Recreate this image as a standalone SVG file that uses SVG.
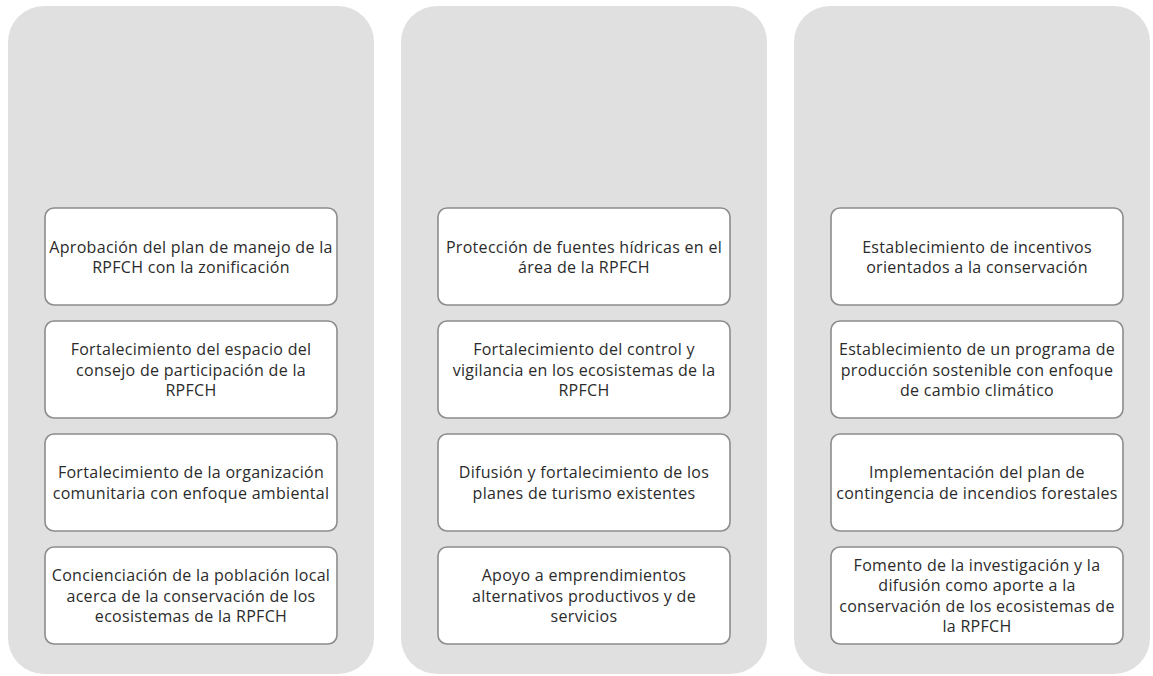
<svg xmlns="http://www.w3.org/2000/svg" width="1153" height="676" viewBox="0 0 1153 676">
<style>
.panel{fill:#e0e0e0}
.box{fill:#ffffff;stroke:#8c8c8c;stroke-width:1.6}
.t{font-family:"Open Sans","Liberation Sans",sans-serif;font-size:16px;letter-spacing:0.3px;fill:#2b2b2b;text-anchor:middle}
</style>
<rect width="1153" height="676" fill="#ffffff"/>
<g id="panels">
<rect class="panel" x="8" y="6" width="366" height="668" rx="36"/>
<rect class="panel" x="401" y="6" width="366" height="668" rx="36"/>
<rect class="panel" x="794" y="6" width="356" height="668" rx="36"/>
</g>
<g id="connectors"/>
<g id="c1n1"><rect class="box" x="45" y="208" width="292" height="97" rx="9"/><text class="t"><tspan x="191" y="252.5">Aprobación del plan de manejo de la</tspan><tspan x="191" y="272.8">RPFCH con la zonificación</tspan></text></g>
<g id="c1n2"><rect class="box" x="45" y="321" width="292" height="97" rx="9"/><text class="t"><tspan x="191" y="355.2">Fortalecimiento del espacio del</tspan><tspan x="191" y="375.5">consejo de participación de la</tspan><tspan x="191" y="395.8">RPFCH</tspan></text></g>
<g id="c1n3"><rect class="box" x="45" y="434" width="292" height="97" rx="9"/><text class="t"><tspan x="191" y="478.4">Fortalecimiento de la organización</tspan><tspan x="191" y="498.7">comunitaria con enfoque ambiental</tspan></text></g>
<g id="c1n4"><rect class="box" x="45" y="547" width="292" height="97" rx="9"/><text class="t"><tspan x="191" y="581.2">Concienciación de la población local</tspan><tspan x="191" y="601.5">acerca de la conservación de los</tspan><tspan x="191" y="621.8">ecosistemas de la RPFCH</tspan></text></g>

<g id="c2n1"><rect class="box" x="438" y="208" width="292" height="97" rx="9"/><text class="t"><tspan x="584" y="252.5">Protección de fuentes hídricas en el</tspan><tspan x="584" y="272.8">área de la RPFCH</tspan></text></g>
<g id="c2n2"><rect class="box" x="438" y="321" width="292" height="97" rx="9"/><text class="t"><tspan x="584" y="355.2">Fortalecimiento del control y</tspan><tspan x="584" y="375.5">vigilancia en los ecosistemas de la</tspan><tspan x="584" y="395.8">RPFCH</tspan></text></g>
<g id="c2n3"><rect class="box" x="438" y="434" width="292" height="97" rx="9"/><text class="t"><tspan x="584" y="478.4">Difusión y fortalecimiento de los</tspan><tspan x="584" y="498.7">planes de turismo existentes</tspan></text></g>
<g id="c2n4"><rect class="box" x="438" y="547" width="292" height="97" rx="9"/><text class="t"><tspan x="584" y="581.2">Apoyo a emprendimientos</tspan><tspan x="584" y="601.5">alternativos productivos y de</tspan><tspan x="584" y="621.8">servicios</tspan></text></g>

<g id="c3n1"><rect class="box" x="831" y="208" width="292" height="97" rx="9"/><text class="t"><tspan x="977" y="252.5">Establecimiento de incentivos</tspan><tspan x="977" y="272.8">orientados a la conservación</tspan></text></g>
<g id="c3n2"><rect class="box" x="831" y="321" width="292" height="97" rx="9"/><text class="t"><tspan x="977" y="355.2">Establecimiento de un programa de</tspan><tspan x="977" y="375.5">producción sostenible con enfoque</tspan><tspan x="977" y="395.8">de cambio climático</tspan></text></g>
<g id="c3n3"><rect class="box" x="831" y="434" width="292" height="97" rx="9"/><text class="t"><tspan x="977" y="478.4">Implementación del plan de</tspan><tspan x="977" y="498.7">contingencia de incendios forestales</tspan></text></g>
<g id="c3n4"><rect class="box" x="831" y="547" width="292" height="97" rx="9"/><text class="t"><tspan x="977" y="571.1">Fomento de la investigación y la</tspan><tspan x="977" y="591.4">difusión como aporte a la</tspan><tspan x="977" y="611.7">conservación de los ecosistemas de</tspan><tspan x="977" y="632">la RPFCH</tspan></text></g>
</svg>
